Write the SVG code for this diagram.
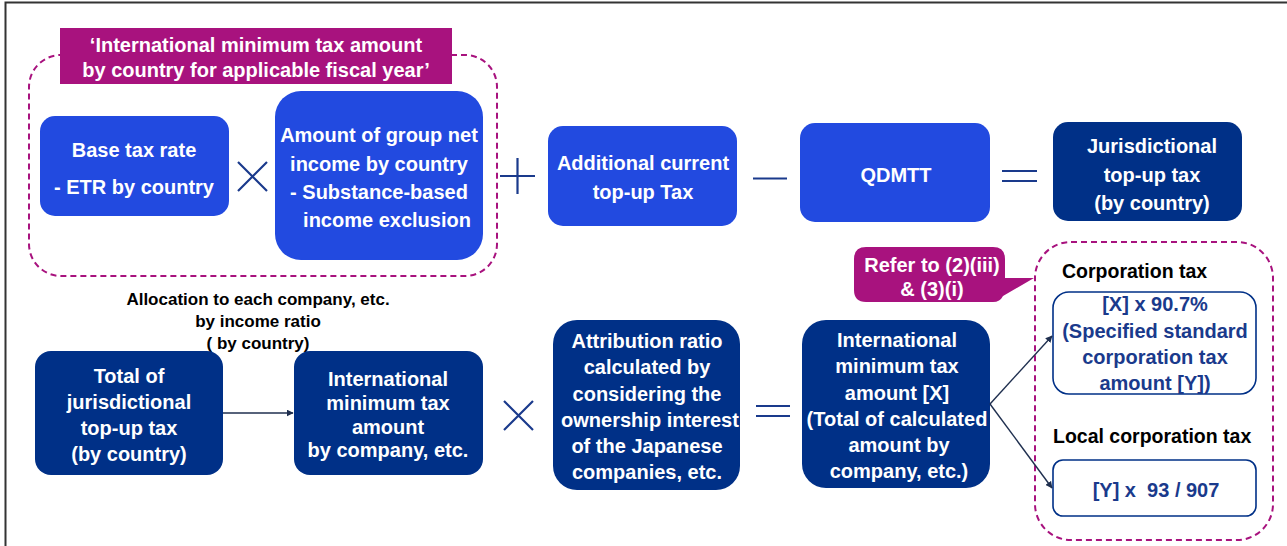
<svg xmlns="http://www.w3.org/2000/svg" width="1287" height="546" viewBox="0 0 1287 546">
  <defs>
    <style>
      .blue { fill: #224ae0; }
      .navy { fill: #003087; }
      .outline { fill: #ffffff; stroke: #003087; stroke-width: 1.6; }
      .dash { fill: none; stroke: #a8127e; stroke-width: 2; stroke-dasharray: 6 4; }
      .tag { fill: #a8127e; }
      .w { fill: #ffffff; font-family: "Liberation Sans", Arial, sans-serif; font-weight: bold; font-size: 20px; text-anchor: middle; }
      .b { fill: #000000; font-family: "Liberation Sans", Arial, sans-serif; font-weight: bold; font-size: 19.5px; }
      .d { fill: #1a3a8c; font-family: "Liberation Sans", Arial, sans-serif; font-weight: bold; font-size: 20px; text-anchor: middle; }
      .note { fill: #000000; font-family: "Liberation Sans", Arial, sans-serif; font-weight: bold; font-size: 17px; text-anchor: middle; }
      .op { stroke: #1a3a8c; stroke-width: 2.2; fill: none; }
      .conn { stroke: #1f2f4f; stroke-width: 1.4; fill: none; marker-end: url(#arrow); }
    </style>
    <marker id="arrow" viewBox="0 0 10 10" refX="9" refY="5" markerWidth="7" markerHeight="7" orient="auto" markerUnits="userSpaceOnUse">
      <path d="M0,0 L10,5 L0,10 z" fill="#1f2f4f"/>
    </marker>
  </defs>

  <rect width="1287" height="546" fill="#ffffff"/>
  <!-- frame -->
  <path d="M5.5,546 V2.5 H1287" fill="none" stroke="#333333" stroke-width="2"/>

  <!-- per-country group -->
  <g id="group-country">
    <rect class="dash" x="29" y="55" width="468" height="221" rx="32"/>
    <rect class="tag" x="60" y="28" width="392" height="56"/>
    <text class="w" x="256" y="52">‘International minimum tax amount</text>
    <text class="w" x="256" y="77">by country for applicable fiscal year’</text>
  </g>

  <g id="base-tax-rate">
    <rect class="blue" x="40" y="116" width="189" height="100" rx="15"/>
    <text class="w" x="134" y="157">Base tax rate</text>
    <text class="w" x="134" y="194">- ETR by country</text>
  </g>

  <g id="op-times-1"><path class="op" d="M238,162 L267,191 M267,162 L238,191"/></g>

  <g id="group-net-income">
    <rect class="blue" x="275" y="91" width="208" height="169" rx="26"/>
    <text class="w" x="379" y="142">Amount of group net</text>
    <text class="w" x="379" y="171">income by country</text>
    <text class="w" x="379" y="199">- Substance-based</text>
    <text class="w" x="387" y="227">income exclusion</text>
  </g>

  <g id="op-plus"><path class="op" d="M500,176 H535 M517.5,158 V194"/></g>

  <g id="additional-topup">
    <rect class="blue" x="548" y="126" width="189" height="100" rx="15"/>
    <text class="w" x="643" y="170">Additional current</text>
    <text class="w" x="643" y="199">top-up Tax</text>
  </g>

  <g id="op-minus"><path class="op" d="M753,178.5 H787"/></g>

  <g id="qdmtt">
    <rect class="blue" x="800" y="123" width="190" height="99" rx="15"/>
    <text class="w" x="896" y="182">QDMTT</text>
  </g>

  <g id="op-equals-1"><path class="op" d="M1002,171 H1037 M1002,181 H1037"/></g>

  <g id="jurisdictional-topup">
    <rect class="navy" x="1053" y="122" width="189" height="99" rx="15"/>
    <text class="w" x="1152" y="153">Jurisdictional</text>
    <text class="w" x="1152" y="182">top-up tax</text>
    <text class="w" x="1152" y="210">(by country)</text>
  </g>

  <!-- allocation note -->
  <g id="allocation-note">
    <text class="note" x="258" y="305">Allocation to each company, etc.</text>
    <text class="note" x="258" y="327">by income ratio</text>
    <text class="note" x="258" y="349">( by country)</text>
  </g>

  <g id="total-jurisdictional">
    <rect class="navy" x="35" y="351" width="188" height="124" rx="16"/>
    <text class="w" x="129" y="383">Total of</text>
    <text class="w" x="129" y="409">jurisdictional</text>
    <text class="w" x="129" y="435">top-up tax</text>
    <text class="w" x="129" y="461">(by country)</text>
  </g>

  <g id="min-tax-by-company">
    <rect class="navy" x="294" y="351" width="189" height="124" rx="16"/>
    <text class="w" x="388" y="386">International</text>
    <text class="w" x="388" y="410">minimum tax</text>
    <text class="w" x="388" y="434">amount</text>
    <text class="w" x="388" y="457">by company, etc.</text>
  </g>

  <g id="op-times-2"><path class="op" d="M504,401 L533,430 M533,401 L504,430"/></g>

  <g id="attribution-ratio">
    <rect class="navy" x="553" y="320" width="187" height="170" rx="24"/>
    <text class="w" x="647" y="348">Attribution ratio</text>
    <text class="w" x="647" y="374">calculated by</text>
    <text class="w" x="647" y="401">considering the</text>
    <text class="w" x="650" y="427">ownership interest</text>
    <text class="w" x="647" y="453">of the Japanese</text>
    <text class="w" x="647" y="479">companies, etc.</text>
  </g>

  <g id="op-equals-2"><path class="op" d="M756,406 H790 M756,416 H790"/></g>

  <g id="min-tax-x">
    <rect class="navy" x="802" y="320" width="188" height="168" rx="24"/>
    <text class="w" x="897" y="347">International</text>
    <text class="w" x="897" y="373">minimum tax</text>
    <text class="w" x="897" y="400">amount [X]</text>
    <text class="w" x="897" y="426">(Total of calculated</text>
    <text class="w" x="899" y="452">amount by</text>
    <text class="w" x="899" y="478">company, etc.)</text>
  </g>

  <!-- reference callout -->
  <g id="refer-callout">
    <path class="tag" d="M866,247 H993 Q1005,247 1005,259 V278 L1034,278 L1003,296 Q1000,302 993,302 H866 Q854,302 854,290 V259 Q854,247 866,247 z"/>
    <text class="w" x="932" y="272">Refer to (2)(iii)</text>
    <text class="w" x="932" y="296">&amp; (3)(i)</text>
  </g>

  <!-- tax split group -->
  <g id="tax-split">
    <rect class="dash" x="1035" y="242" width="238" height="298" rx="36"/>
    <text class="b" x="1062" y="278">Corporation tax</text>
    <text class="b" x="1053" y="443">Local corporation tax</text>
  </g>

  <g id="corporation-tax">
    <rect class="outline" x="1053" y="292" width="203" height="102" rx="16"/>
    <text class="d" x="1155" y="311">[X] x 90.7%</text>
    <text class="d" x="1155" y="338">(Specified standard</text>
    <text class="d" x="1155" y="364">corporation tax</text>
    <text class="d" x="1155" y="390">amount [Y])</text>
  </g>

  <g id="local-corporation-tax">
    <rect class="outline" x="1053" y="460" width="203" height="56" rx="10"/>
    <text class="d" x="1156" y="497" xml:space="preserve">[Y] x  93 / 907</text>
  </g>

  <!-- connectors -->
  <g id="connectors">
    <path class="conn" d="M223,413 H293"/>
    <path class="conn" d="M990,404 L1052,336"/>
    <path class="conn" d="M990,404 L1052,488"/>
  </g>
</svg>
